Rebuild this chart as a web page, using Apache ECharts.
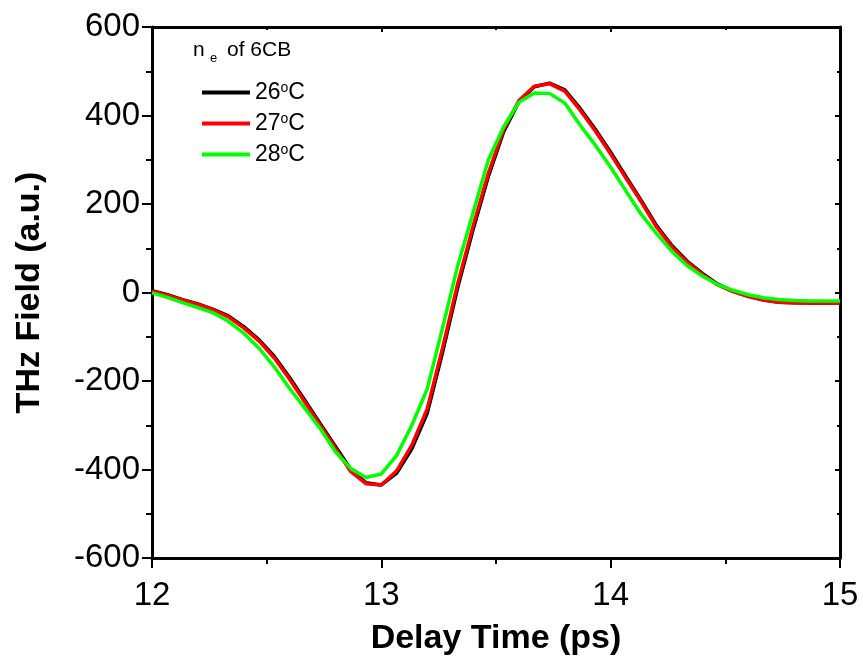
<!DOCTYPE html>
<html>
<head>
<meta charset="utf-8">
<script src="https://cdn.jsdelivr.net/npm/echarts@6/dist/echarts.min.js"></script>
<style>
  html, body { margin: 0; padding: 0; background: #fff; }
  #chart { width: 863px; height: 661px; }
</style>
</head>
<body>
<div id="chart"></div>
<script>
// Delay time samples (ps)
const delayTimes = [
  12.000, 12.067, 12.133, 12.200, 12.267, 12.333, 12.400, 12.467, 12.533, 12.600,
  12.667, 12.733, 12.800, 12.867, 12.933, 13.000, 13.067, 13.133, 13.200, 13.267,
  13.333, 13.400, 13.467, 13.533, 13.600, 13.667, 13.733, 13.800, 13.867, 13.933,
  14.000, 14.067, 14.133, 14.200, 14.267, 14.333, 14.400, 14.467, 14.533, 14.600,
  14.667, 14.733, 14.800, 14.867, 14.933, 15.000
];

// THz field (a.u.) for each temperature
const field26 = [
  4, -5, -16, -26, -38, -53, -77, -107, -144, -192,
  -244, -296, -348, -400, -430, -435, -408, -353, -273, -135,
  11, 142, 263, 363, 431, 465, 473, 458, 416, 369,
  317, 262, 208, 151, 106, 71, 43, 19, 3, -8,
  -17, -22, -23, -24, -24, -24
];
const field27 = [
  3, -6, -17, -27, -39, -55, -80, -110, -148, -196,
  -248, -300, -352, -405, -432, -435, -403, -345, -263, -125,
  20, 150, 270, 368, 434, 466, 472, 455, 412, 365,
  313, 258, 205, 148, 103, 69, 41, 17, 2, -9,
  -17, -22, -23, -24, -24, -24
];
const field28 = [
  -1, -11, -23, -34, -46, -65, -92, -126, -168, -217,
  -262, -307, -360, -398, -418, -410, -368, -300, -218, -80,
  60, 180, 300, 374, 430, 451, 450, 428, 378, 333,
  283, 229, 177, 133, 93, 61, 37, 18, 5, -5,
  -12, -16, -18, -19, -19, -19
];

const seriesNames = ['26{sup|o}C', '27{sup|o}C', '28{sup|o}C'];
const seriesColors = ['#000000', '#ff0000', '#00ff00'];
const seriesData = [field26, field27, field28];

const xTicks = { min: 12, max: 15, interval: 1 };
const yTicks = { min: -600, max: 600, interval: 200 };

const FONT = 'Liberation Sans, Arial, sans-serif';

function pairs(values) {
  return delayTimes.map((t, i) => [t, values[i]]);
}

const chart = echarts.init(document.getElementById('chart'), null, { renderer: 'canvas' });

const mainAxisCommon = {
  axisLine: { show: true, onZero: false, lineStyle: { color: '#000', width: 3 } },
  axisTick: { show: true, inside: false, length: 10, lineStyle: { color: '#000', width: 2 } },
  minorTick: { show: true, splitNumber: 2, length: 6, lineStyle: { color: '#000', width: 2 } },
  splitLine: { show: false },
  axisLabel: { color: '#000', fontSize: 33, fontFamily: FONT }
};

const mirrorAxisCommon = {
  axisLine: { show: true, onZero: false, lineStyle: { color: '#000', width: 3 } },
  axisTick: { show: true, inside: true, length: 5, lineStyle: { color: '#000', width: 2 } },
  minorTick: { show: true, splitNumber: 2, length: 3, lineStyle: { color: '#000', width: 2 } },
  splitLine: { show: false },
  axisLabel: { show: false }
};

const option = {
  backgroundColor: '#fff',
  animation: false,
  grid: { left: 152, right: 23, top: 27, bottom: 101, containLabel: false },
  xAxis: [
    Object.assign({
      type: 'value', position: 'bottom',
      min: xTicks.min, max: xTicks.max, interval: xTicks.interval,
      name: 'Delay Time (ps)', nameLocation: 'middle', nameGap: 64,
      nameTextStyle: { color: '#000', fontSize: 34, fontWeight: 'bold', fontFamily: FONT }
    }, mainAxisCommon, { axisLabel: Object.assign({}, mainAxisCommon.axisLabel, { margin: 21 }) }),
    Object.assign({
      type: 'value', position: 'top',
      min: xTicks.min, max: xTicks.max, interval: xTicks.interval
    }, mirrorAxisCommon)
  ],
  yAxis: [
    Object.assign({
      type: 'value', position: 'left',
      min: yTicks.min, max: yTicks.max, interval: yTicks.interval,
      name: 'THz Field (a.u.)', nameLocation: 'middle', nameGap: 105, nameRotate: 90,
      nameTextStyle: { color: '#000', fontSize: 34, fontWeight: 'bold', fontFamily: FONT }
    }, mainAxisCommon, { axisLabel: Object.assign({}, mainAxisCommon.axisLabel, { margin: 12 }) }),
    Object.assign({
      type: 'value', position: 'right',
      min: yTicks.min, max: yTicks.max, interval: yTicks.interval
    }, mirrorAxisCommon)
  ],
  legend: {
    orient: 'vertical',
    left: 202, top: 81,
    padding: 0,
    itemWidth: 48, itemHeight: 4, itemGap: 8,
    icon: 'rect',
    data: seriesNames,
    formatter: name => name,
    textStyle: {
      color: '#000', fontSize: 23, lineHeight: 22, fontFamily: FONT,
      rich: {
        sup: { fontSize: 14, fontFamily: FONT, color: '#000', verticalAlign: 'top', lineHeight: 22, padding: [0, 0, 8, 0] }
      }
    }
  },
  graphic: [
    { type: 'text', left: 193, top: 40, style: { text: 'n', fontSize: 21, fontFamily: FONT, fill: '#000' } },
    { type: 'text', left: 210, top: 52, style: { text: 'e', fontSize: 13, fontFamily: FONT, fill: '#000' } },
    { type: 'text', left: 227, top: 40, style: { text: 'of 6CB', fontSize: 21, fontFamily: FONT, fill: '#000' } }
  ],
  series: seriesData.map((vals, i) => ({
    name: seriesNames[i],
    type: 'line',
    xAxisIndex: 0, yAxisIndex: 0,
    data: pairs(vals),
    showSymbol: false,
    symbol: 'none',
    smooth: false,
    color: seriesColors[i],
    lineStyle: { color: seriesColors[i], width: 3.5 },
    z: 2 + i
  }))
};

chart.setOption(option);
</script>
</body>
</html>
